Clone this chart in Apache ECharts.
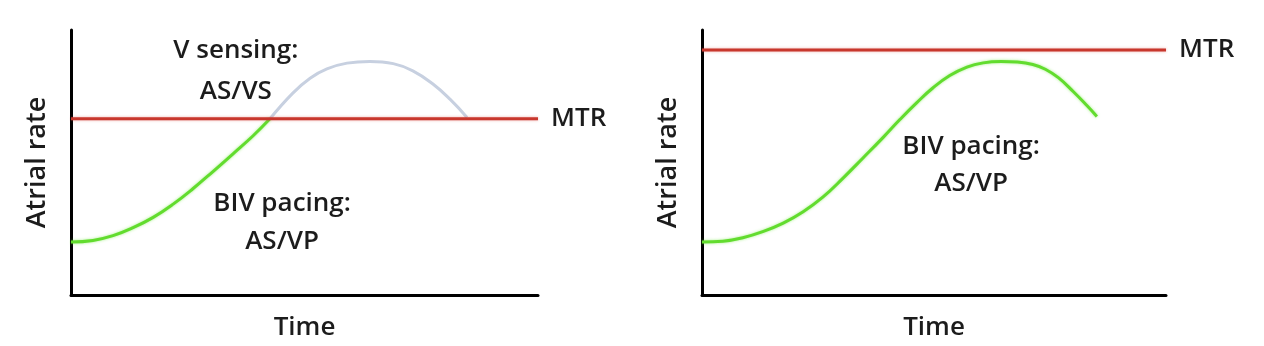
<!DOCTYPE html>
<html>
<head>
<meta charset="utf-8">
<script src="https://cdn.jsdelivr.net/npm/echarts@6/dist/echarts.min.js"></script>
<style>
  html, body { margin: 0; padding: 0; background: #ffffff; }
  #chart { width: 1264px; height: 346px; }
</style>
</head>
<body>
<div id="chart"></div>
<script>
// ---- Data (time and atrial rate in arbitrary 0-100 units) ----
const leftMTR = 66.5;
const rightMTR = 92.5;

// Left panel: BIV pacing (green) below MTR, V sensing (gray) above MTR
const leftPacing = [
  [0, 20.0], [4.7, 20.6], [9.0, 22.4], [13.3, 25.4], [17.6, 29.3], [21.8, 34.2],
  [26.1, 40.1], [30.4, 46.6], [34.7, 53.3], [39.0, 60.1], [42.6, 66.5]
];
const leftSensing = [
  [42.6, 66.5], [47.5, 76.2], [51.2, 81.8], [54.8, 85.3], [59.1, 87.5], [64.0, 88.1],
  [69.0, 87.3], [73.2, 84.6], [77.5, 79.6], [81.2, 73.8], [84.8, 67.0]
];

// Right panel: BIV pacing (green) stays below MTR
const rightPacing = [
  [0, 20.0], [4.5, 20.3], [8.8, 21.6], [13.1, 23.9], [17.5, 27.1], [21.8, 31.4],
  [26.1, 37.0], [30.4, 44.1], [34.7, 51.7], [39.0, 59.4], [42.7, 66.3], [46.3, 72.6],
  [49.8, 78.2], [53.4, 82.8], [57.1, 86.0], [60.6, 87.6], [64.5, 88.1], [68.0, 87.9],
  [71.3, 87.0], [74.0, 85.2], [76.8, 82.0], [80.0, 76.8], [83.0, 71.4], [85.1, 67.4]
];

// Text
const yAxisName = 'Atrial rate';
const xAxisName = 'Time';
const mtrLabel = 'MTR';
const leftAnnotations = [
  { pos: [35.3, 84.4], text: 'V sensing:\nAS/VS', lh: 41 },
  { pos: [45.2, 27.3], text: 'BIV pacing:\nAS/VP', lh: 38 }
];
const rightAnnotations = [
  { pos: [58.0, 49.1], text: 'BIV pacing:\nAS/VP', lh: 37 }
];

// ---- Styling ----
const FONT = '"Open Sans"';
const WEIGHT = 600;
const TEXT_COLOR = '#1c1c1c';
const RED = '#c8372d';
const GREEN = '#62dc2e';
const GRAY = '#c7d0e0';

function makeAxisPair(idx) {
  return {
    x: {
      type: 'value', gridIndex: idx, min: 0, max: 100,
      name: xAxisName, nameLocation: 'middle', nameGap: 20,
      nameTextStyle: { fontFamily: FONT, fontWeight: WEIGHT, fontSize: 26, color: TEXT_COLOR, verticalAlign: 'top' },
      axisLine: { show: true, lineStyle: { color: '#000', width: 3 } },
      axisTick: { show: false }, axisLabel: { show: false }, splitLine: { show: false }
    },
    y: {
      type: 'value', gridIndex: idx, min: 0, max: 100,
      name: yAxisName, nameLocation: 'middle', nameGap: 20, nameRotate: 90,
      nameTextStyle: { fontFamily: FONT, fontWeight: WEIGHT, fontSize: 27, color: TEXT_COLOR },
      axisLine: { show: true, lineStyle: { color: '#000', width: 3 } },
      axisTick: { show: false }, axisLabel: { show: false }, splitLine: { show: false }
    }
  };
}
const a0 = makeAxisPair(0), a1 = makeAxisPair(1);

function mtrSeries(idx, value) {
  return {
    type: 'line', xAxisIndex: idx, yAxisIndex: idx,
    data: [[0, value], [100, value]],
    symbol: 'none', silent: true, z: 3,
    lineStyle: { color: RED, width: 3, shadowColor: 'rgba(220,80,70,0.45)', shadowBlur: 3 },
    endLabel: {
      show: true, formatter: mtrLabel, distance: 13,
      fontFamily: FONT, fontWeight: WEIGHT, fontSize: 26, color: TEXT_COLOR
    }
  };
}
function curveSeries(idx, data, color, glow) {
  return {
    type: 'line', xAxisIndex: idx, yAxisIndex: idx,
    data: data, smooth: 0.45, symbol: 'none', silent: true, z: 2,
    lineStyle: {
      color: color, width: 3,
      shadowColor: glow ? 'rgba(110,230,60,0.6)' : 'rgba(0,0,0,0)', shadowBlur: glow ? 3 : 0
    }
  };
}
function annotationSeries(idx, items) {
  return {
    type: 'scatter', xAxisIndex: idx, yAxisIndex: idx,
    symbolSize: 1, silent: true, z: 5,
    itemStyle: { color: 'rgba(0,0,0,0)' },
    data: items.map(it => ({ value: it.pos, name: it.text, label: { lineHeight: it.lh } })),
    label: {
      show: true, position: 'inside', formatter: p => p.name,
      fontFamily: FONT, fontWeight: WEIGHT, fontSize: 26, color: TEXT_COLOR, align: 'center',
      textBorderWidth: 0, textBorderColor: 'transparent', opacity: 1
    }
  };
}

const chart = echarts.init(document.getElementById('chart'), null, { renderer: 'canvas' });
chart.setOption({
  backgroundColor: '#ffffff',
  animation: false,
  grid: [
    { left: 71, right: 726, top: 30, bottom: 49 },
    { left: 702, right: 98, top: 30, bottom: 49 }
  ],
  xAxis: [a0.x, a1.x],
  yAxis: [a0.y, a1.y],
  series: [
    curveSeries(0, leftPacing, GREEN, true),
    curveSeries(0, leftSensing, GRAY, false),
    mtrSeries(0, leftMTR),
    annotationSeries(0, leftAnnotations),
    curveSeries(1, rightPacing, GREEN, true),
    mtrSeries(1, rightMTR),
    annotationSeries(1, rightAnnotations)
  ]
});
</script>
</body>
</html>
